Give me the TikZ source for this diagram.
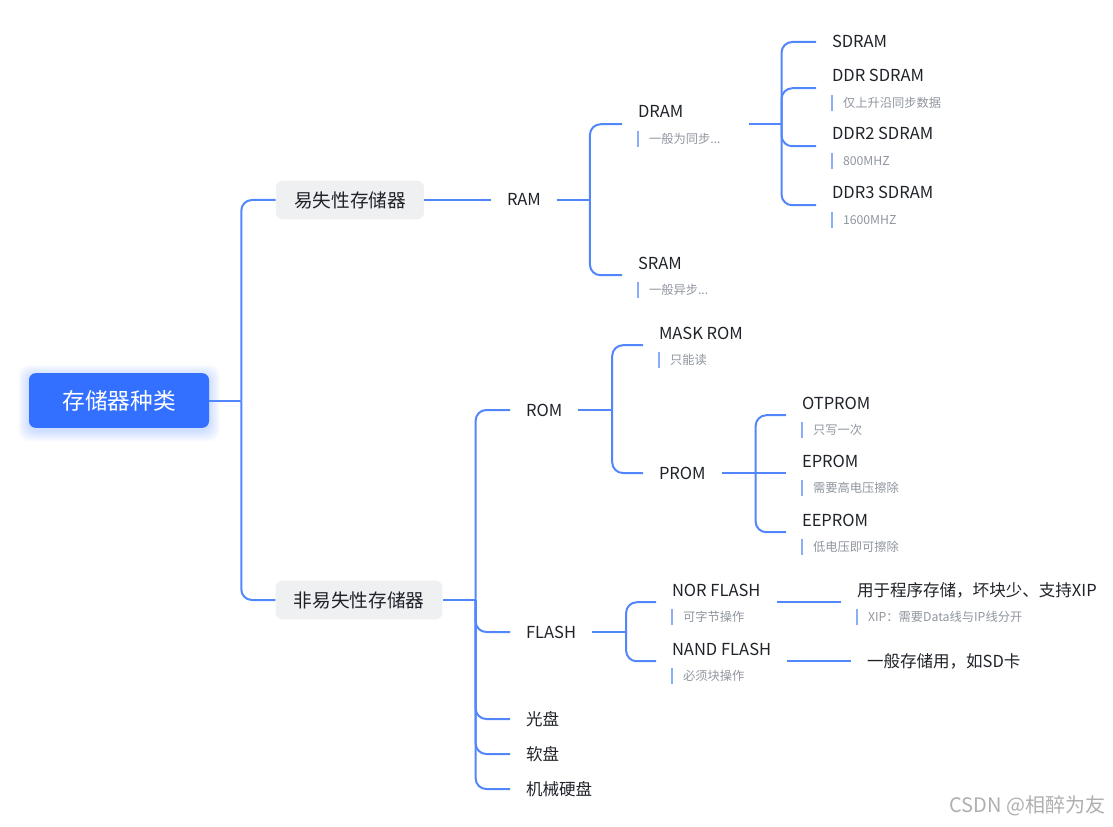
\documentclass[tikz,border=0pt]{standalone}
\usepackage{fontspec}
\setmainfont{Noto Sans CJK SC}
\usetikzlibrary{calc,fit}
\definecolor{rootblue}{RGB}{51,112,255}
\definecolor{linkblue}{RGB}{82,134,252}
\definecolor{barblue}{RGB}{138,172,250}
\definecolor{groupgray}{RGB}{239,240,241}
\definecolor{ink}{RGB}{31,35,41}
\definecolor{memogray}{RGB}{143,149,158}
\definecolor{markgray}{RGB}{175,175,175}

\begin{document}
\begin{tikzpicture}[x=0.75pt, y=-0.75pt,
  link/.style={draw=linkblue, line width=1.5pt, rounded corners=8pt},
  rootbox/.style={fill=rootblue, rounded corners=5pt, text=white, minimum width=135pt,
    minimum height=41pt, font=\fontsize{17}{20}\selectfont},
  groupbox/.style={fill=groupgray, rounded corners=5pt, text=ink, inner xsep=13.5pt,
    minimum height=29pt, font=\fontsize{14}{16}\selectfont},
  topic/.style={anchor=west, text=ink, inner xsep=0pt, inner ysep=0pt, outer xsep=12pt,
    outer ysep=0pt, text height=11pt, text depth=2pt, font=\fontsize{12.4}{14}\selectfont},
  memo/.style={anchor=west, text=memogray, inner sep=0pt, outer sep=0pt, text height=8pt,
    text depth=1.2pt, font=\fontsize{9.2}{11}\selectfont},
  memobar/.style={draw=barblue, line width=1.5pt, shorten <=-1.5pt, shorten >=-1.5pt},
  block/.style={inner sep=0pt, outer sep=0pt},
]
  \useasboundingbox (0,0) rectangle (1113,827);

  % --- root with soft blue glow ---
  \coordinate (glow-sw) at (29,428);
  \coordinate (glow-ne) at (209,373);
  \foreach \g in {1,...,8}
    \fill[rootblue, opacity=0.03, rounded corners=8pt]
      ([xshift=-\g pt, yshift=-\g pt-2pt]glow-sw) rectangle ([xshift=\g pt, yshift=\g pt-2pt]glow-ne);
  \node[rootbox] (root) at (119,400.5) {存储器种类};

  % --- level 1 ---
  \node[groupbox] (vol) at (350,200) {易失性存储器};
  \node[groupbox] (nvol) at (359,600) {非易失性存储器};

  % --- volatile: RAM ---
  \node[topic] (ram) at (491,200) {RAM};
  \node[topic] (dram) at (622,112) {DRAM};
  \node[memo] (dram-n) at (649,139) {一般为同步...};
  \node[topic] (sram) at (622,263) {SRAM};
  \node[memo] (sram-n) at (649,290) {一般异步...};
  \node[topic] (sdram) at (816,42) {SDRAM};
  \node[topic] (ddr) at (816,76) {DDR SDRAM};
  \node[memo] (ddr-n) at (843,103) {仅上升沿同步数据};
  \node[topic] (ddr2) at (816,134) {DDR2 SDRAM};
  \node[memo] (ddr2-n) at (843,161) {800MHZ};
  \node[topic] (ddr3) at (816,193) {DDR3 SDRAM};
  \node[memo] (ddr3-n) at (843,220) {1600MHZ};

  % --- non-volatile: ROM ---
  \node[topic] (rom) at (510,410) {ROM};
  \node[topic] (mask) at (643,333) {MASK ROM};
  \node[memo] (mask-n) at (670,360) {只能读};
  \node[topic] (prom) at (643,473) {PROM};
  \node[topic] (otp) at (786,403) {OTPROM};
  \node[memo] (otp-n) at (813,430) {只写一次};
  \node[topic] (ep) at (786,461) {EPROM};
  \node[memo] (ep-n) at (813,488) {需要高电压擦除};
  \node[topic] (eep) at (786,520) {EEPROM};
  \node[memo] (eep-n) at (813,547) {低电压即可擦除};

  % --- non-volatile: FLASH and disks ---
  \node[topic] (flash) at (510,632) {FLASH};
  \node[topic] (nor) at (656,590) {NOR FLASH};
  \node[memo] (nor-n) at (683,617) {可字节操作};
  \node[topic] (nand) at (656,649) {NAND FLASH};
  \node[memo] (nand-n) at (683,676) {必须块操作};
  \node[topic] (xip) at (841,590) {用于程序存储，坏块少、支持XIP};
  \node[memo] (xip-n) at (868,617) {XIP：需要Data线与IP线分开};
  \node[topic] (sd) at (851,661) {一般存储用，如SD卡};
  \node[topic] (disc) at (510,719) {光盘};
  \node[topic] (floppy) at (510,754) {软盘};
  \node[topic] (hdd) at (510,789) {机械硬盘};

  % title+memo blocks and memo bars
  \foreach \t in {dram,sram,ddr,ddr2,ddr3,mask,otp,ep,eep,nor,nand,xip} {
    \node[block, fit=(\t)(\t-n)] (\t-blk) {};
    \draw[memobar] ([xshift=12pt]\t.west |- \t-n.north) -- ([xshift=12pt]\t.west |- \t-n.south);
  }

  % === connectors (stem to the hub, then one bend per child) ===
  \draw[link] (root.east) -- ++(32,0) coordinate (root-j);
  \draw[link] (root-j) |- (vol.west);
  \draw[link] (root-j) |- (nvol.west);

  \draw[link] (vol.east) -- (ram.west);
  \draw[link] (ram.east) -- ++(33,0) coordinate (ram-j);
  \draw[link] (ram-j) |- (dram-blk.west);
  \draw[link] (ram-j) |- (sram-blk.west);
  \draw[link] ([xshift=21pt]dram-blk.east) -- ++(33,0) coordinate (dram-j);
  \foreach \c in {sdram.west, ddr-blk.west, ddr2-blk.west, ddr3-blk.west}
    \draw[link] (dram-j) |- (\c);

  \draw[link] (nvol.east) -- ++(33,0) coordinate (nvol-j);
  \foreach \c in {rom.west, flash.west, disc.west, floppy.west, hdd.west}
    \draw[link] (nvol-j) |- (\c);

  \draw[link] (rom.east) -- ++(34,0) coordinate (rom-j);
  \draw[link] (rom-j) |- (mask-blk.west);
  \draw[link] (rom-j) |- (prom.west);
  \draw[link] (prom.east) -- (prom.east -| ep-blk.west);
  \draw[link] (prom.east) ++(34,0) coordinate (prom-j);
  \draw[link] (prom-j) |- (otp-blk.west);
  \draw[link] (prom-j) |- (eep-blk.west);

  \draw[link] (flash.east) -- ++(34,0) coordinate (flash-j);
  \draw[link] (flash-j) |- (nor-blk.west);
  \draw[link] (flash-j) |- (nand-blk.west);
  \draw[link] (nor-blk.east) -- (xip-blk.west);
  \draw[link] (nand-blk.east) -- (sd.west |- nand-blk.east);

  % watermark
  \node[anchor=east, text=markgray, font=\fontsize{15}{18}\selectfont] (mark) at (1110,806) {CSDN @相醉为友};
\end{tikzpicture}
\end{document}
